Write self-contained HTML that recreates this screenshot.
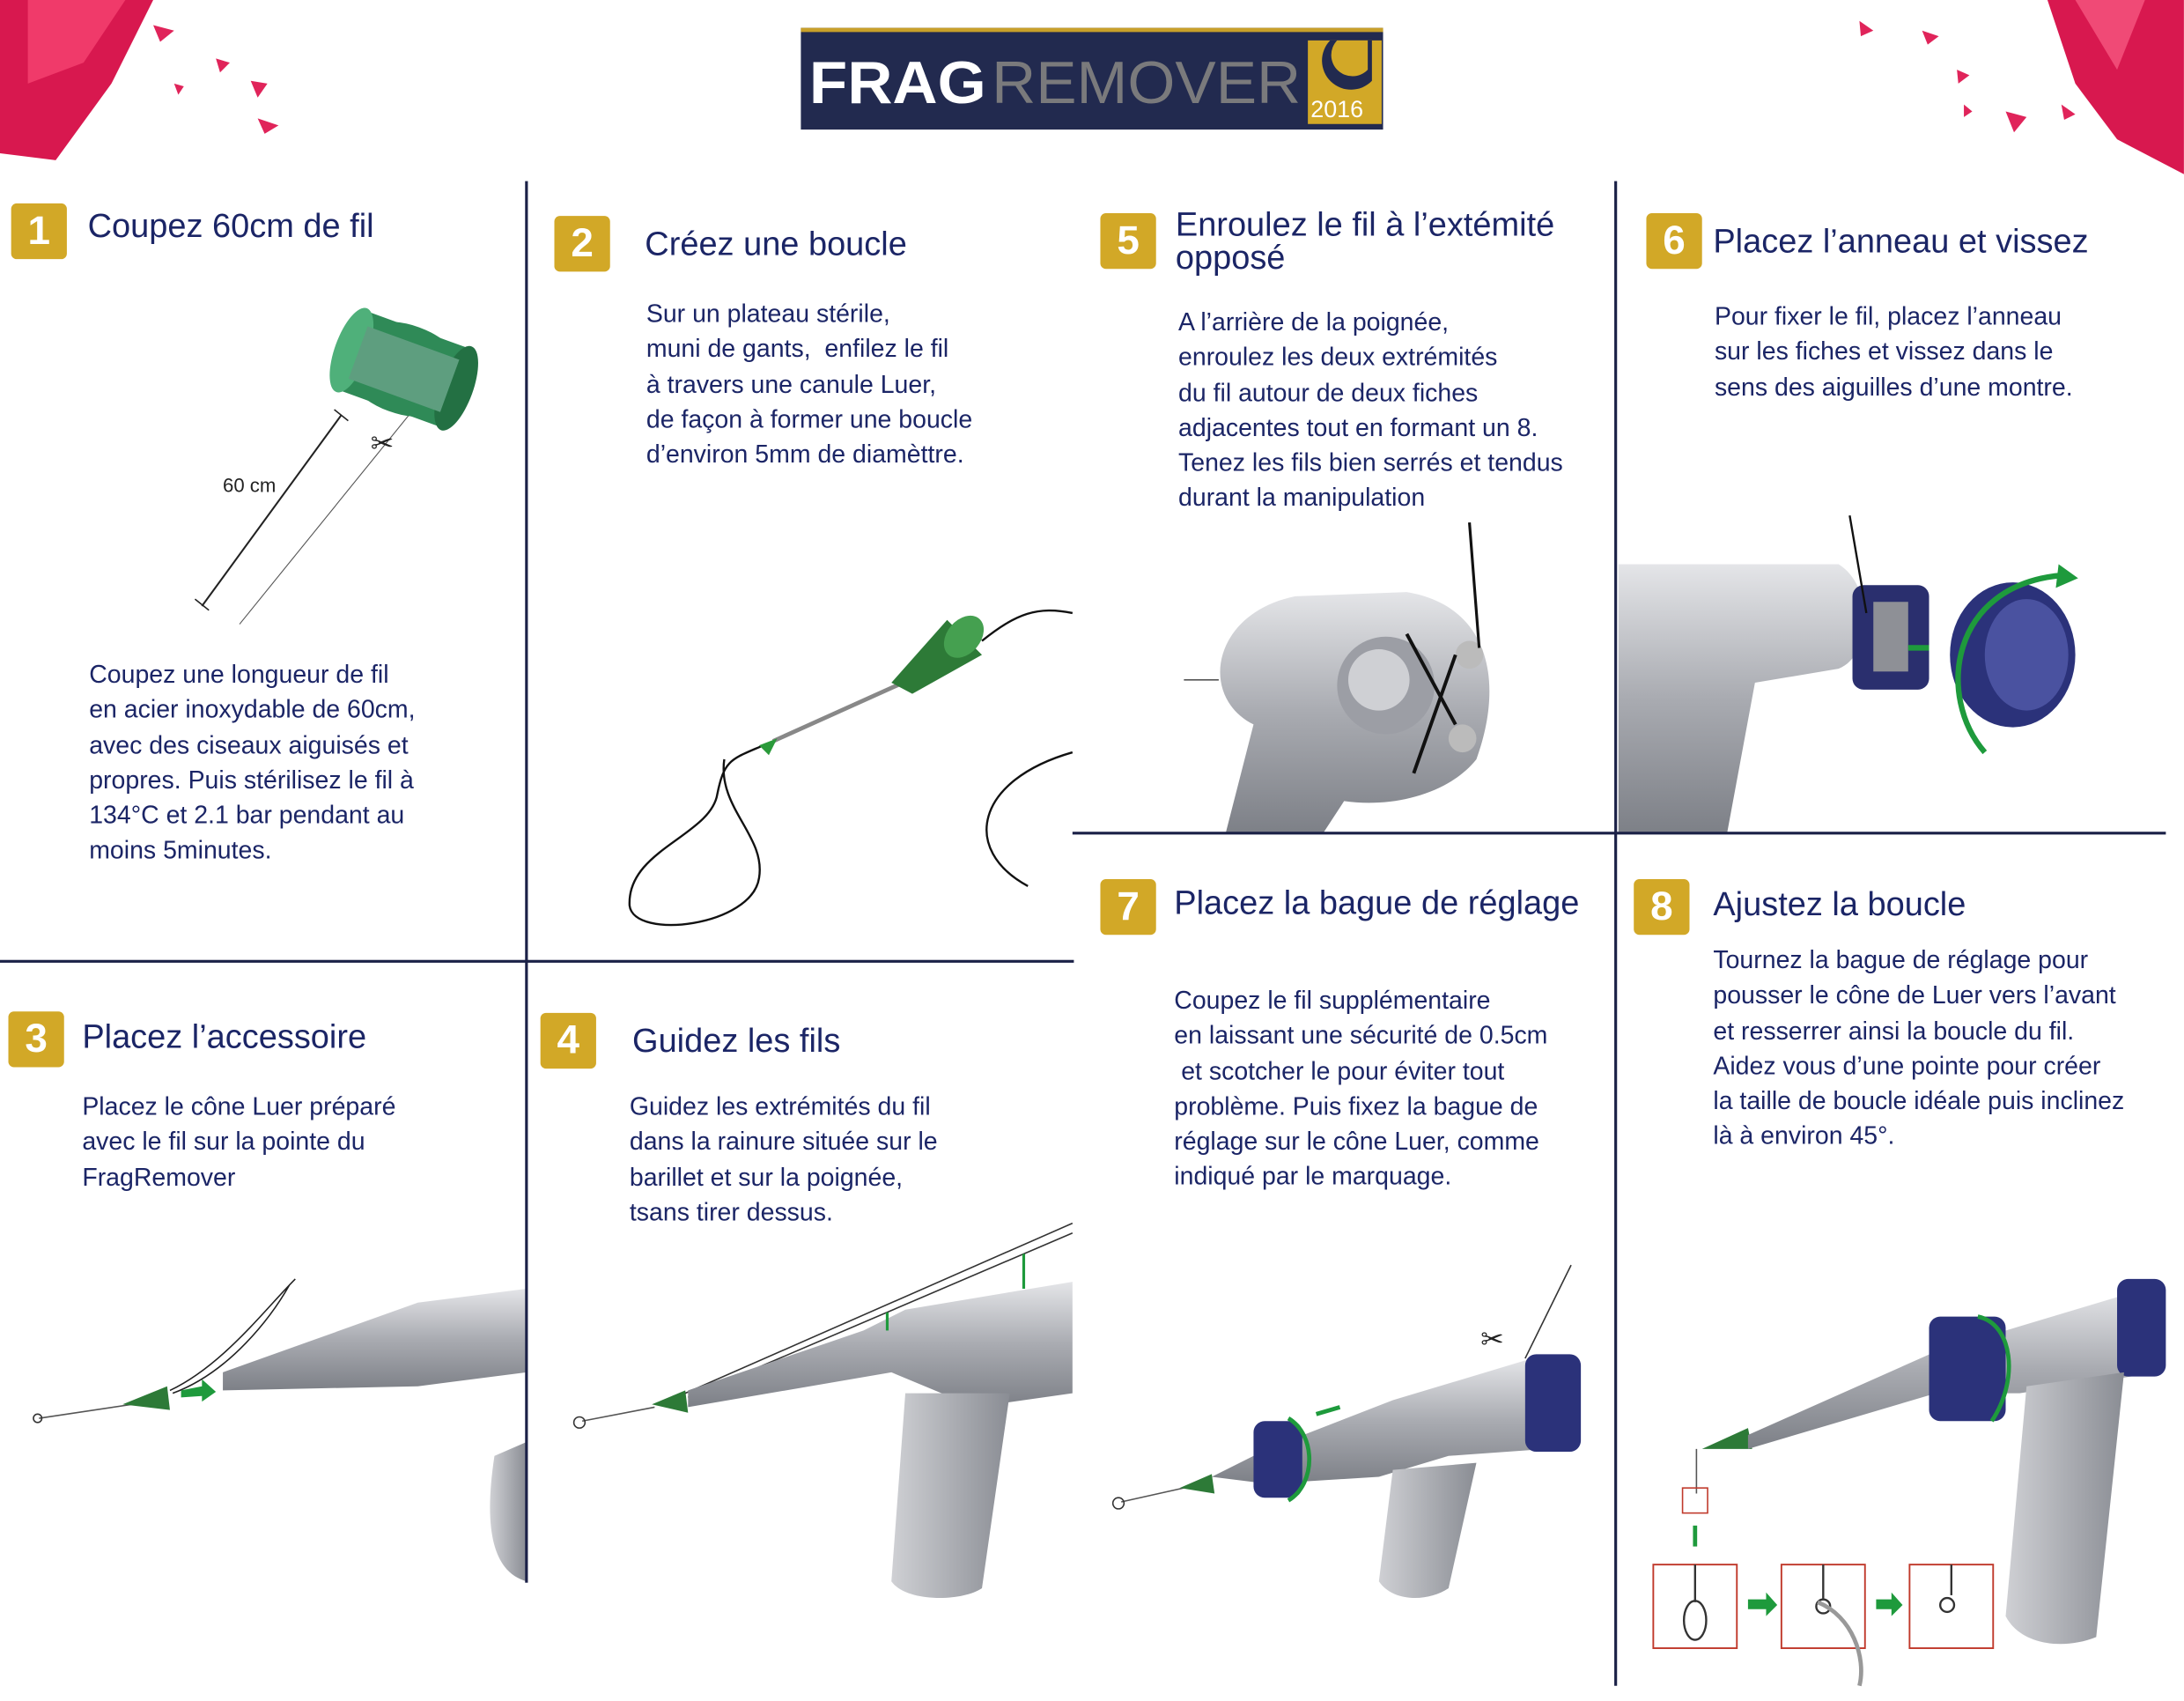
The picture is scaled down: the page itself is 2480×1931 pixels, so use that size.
<!DOCTYPE html>
<html><head><meta charset="utf-8"><style>
html,body{margin:0;padding:0;background:#fff;}
body{width:2480px;height:1931px;overflow:hidden;position:relative;}
#w{position:absolute;left:0;top:0;width:1568px;height:1221px;transform:scale(1.5816);transform-origin:0 0;font-family:"Liberation Sans","DejaVu Sans",sans-serif;color:#1b2566;}
.b{position:absolute;width:40px;height:40px;background:#d2a827;border-radius:4px;color:#fff;font-weight:bold;font-size:29px;line-height:40px;text-align:center;}
.t{position:absolute;font-size:24px;line-height:26px;white-space:nowrap;}
.p{position:absolute;font-size:18px;line-height:25.3px;white-space:nowrap;}
.ln{position:absolute;background:#1b2147;}
svg{position:absolute;left:0;top:0;}
</style></head><body><div id="w">
<svg width="1568" height="1221" viewBox="0 0 1568 1221">
<defs>
<linearGradient id="g" x1="0" y1="0" x2="0" y2="1"><stop offset="0" stop-color="#e4e5e8"/><stop offset=".5" stop-color="#a9abb1"/><stop offset="1" stop-color="#7d8087"/></linearGradient>
<linearGradient id="gh" x1="0" y1="0" x2="1" y2="0"><stop offset="0" stop-color="#cfd0d4"/><stop offset="1" stop-color="#8a8d94"/></linearGradient>
</defs>
<polygon points="0,0 110,0 80,60 40,115 0,110" fill="#d8184f"/>
<polygon points="20,0 90,0 60,45 20,60" fill="#f03a6a"/>
<polygon points="1470,0 1568,0 1568,125 1520,100 1490,60" fill="#d8184f"/>
<polygon points="1490,0 1540,0 1520,50" fill="#f04a76"/>
<g fill="#e0245a"><polygon points="110,18 125,22 115,30"/><polygon points="155,42 165,45 158,52"/><polygon points="180,58 192,60 185,70"/><polygon points="185,85 200,90 190,96"/><polygon points="125,60 132,62 128,68"/><polygon points="1335,15 1345,22 1336,26"/><polygon points="1380,22 1392,26 1384,32"/><polygon points="1405,50 1414,54 1406,60"/><polygon points="1440,80 1455,84 1446,95"/><polygon points="1480,75 1490,82 1482,86"/><polygon points="1410,75 1416,80 1410,84"/></g>
<rect x="575" y="20" width="418" height="73" fill="#222a4f"/>
<rect x="575" y="20" width="418" height="3" fill="#c8a02a"/>
<rect x="939" y="29" width="53" height="60" fill="#d2a827"/>
<path d="M955,29 A18,18 0 0 0 985,58 L985,29 Z" fill="#222a4f"/>
<path d="M960,29 A12,12 0 0 0 982,50 L982,29 Z" fill="#d2a827"/>
<text x="581" y="74" font-family="Liberation Sans" font-weight="bold" font-size="43" fill="#fff" textLength="127" lengthAdjust="spacingAndGlyphs">FRAG</text>
<text x="712" y="74" font-family="Liberation Sans" font-size="43" fill="#7a7a7c" textLength="222" lengthAdjust="spacingAndGlyphs">REMOVER</text>
<text x="941" y="84" font-family="Liberation Sans" font-size="17" fill="#fff">2016</text>
<line x1="145" y1="435" x2="245" y2="298" stroke="#222" stroke-width="1.3"/>
<line x1="140" y1="430" x2="150" y2="438" stroke="#222"/>
<line x1="240" y1="294" x2="250" y2="302" stroke="#222"/>
<line x1="172" y1="448" x2="300" y2="290" stroke="#555" stroke-width=".7"/>
<text x="160" y="353" font-size="14" fill="#222" font-family="Liberation Sans">60 cm</text>
<text x="266" y="325" font-size="20" fill="#222">✂</text>
<g transform="rotate(20 290 265)"><ellipse cx="290" cy="265" rx="48" ry="32" fill="#2f8a57"/><rect x="250" y="235" width="80" height="60" fill="#2f8a57"/><ellipse cx="250" cy="265" rx="12" ry="32" fill="#4fb07a"/><ellipse cx="330" cy="265" rx="12" ry="32" fill="#237043"/><rect x="255" y="245" width="70" height="40" fill="#5e9e7f"/></g>
<line x1="555" y1="532" x2="655" y2="487" stroke="#888" stroke-width="3"/>
<polygon points="640,490 680,445 705,470 655,498" fill="#2d7a37"/>
<ellipse cx="692" cy="457" rx="12" ry="17" transform="rotate(40 692 457)" fill="#45a050"/>
<path d="M705,460 C730,440 745,435 770,440" stroke="#111" fill="none" stroke-width="1.5"/>
<path d="M548,535 C525,545 520,545 515,570 C510,600 450,610 452,650 C455,675 540,665 545,630 C550,600 515,580 520,545" stroke="#111" fill="none" stroke-width="1.5"/>
<polygon points="545,535 558,530 552,542" fill="#2a9a3a"/>
<path d="M770,540 C700,560 690,610 738,636" stroke="#111" fill="none" stroke-width="1.5"/>
<path d="M880,598 L900,520 C860,500 870,440 930,428 L1010,425 C1070,435 1080,490 1060,545 C1040,570 1000,580 965,575 L950,598 Z" fill="url(#g)"/>
<circle cx="995" cy="492" r="35" fill="#9c9ea5"/><circle cx="990" cy="488" r="22" fill="#cfd0d4"/>
<circle cx="1055" cy="470" r="10" fill="#bbb"/><circle cx="1050" cy="530" r="10" fill="#bbb"/>
<path d="M1010,455 L1045,520 M1045,470 L1015,555" stroke="#111" stroke-width="2.5"/>
<line x1="1055" y1="375" x2="1062" y2="465" stroke="#111" stroke-width="2"/>
<line x1="850" y1="488" x2="875" y2="488" stroke="#555"/>
<path d="M1162,405 L1320,405 C1345,420 1345,470 1320,480 L1260,490 L1240,598 L1162,598 Z" fill="url(#g)"/>
<rect x="1330" y="420" width="55" height="75" rx="8" fill="#2a2f6e"/>
<rect x="1345" y="432" width="25" height="50" fill="#8e9096"/>
<ellipse cx="1445" cy="470" rx="45" ry="52" fill="#2b327a"/><ellipse cx="1455" cy="470" rx="30" ry="40" fill="#4a52a0"/>
<path d="M1425,540 C1390,500 1400,420 1480,413" stroke="#1e9a3c" stroke-width="4" fill="none"/>
<polygon points="1478,405 1492,415 1476,422" fill="#1e9a3c"/>
<line x1="1385" y1="465" x2="1370" y2="465" stroke="#1e9a3c" stroke-width="4"/>
<line x1="1328" y1="370" x2="1340" y2="440" stroke="#111" stroke-width="1.5"/>
<line x1="28" y1="1018" x2="95" y2="1008" stroke="#555"/><circle cx="27" cy="1018" r="3" fill="none" stroke="#333"/>
<polygon points="88,1008 120,995 122,1012" fill="#2d7a37"/>
<path d="M122,998 C160,980 190,940 212,918 M124,1000 C165,985 195,945 208,922" stroke="#222" fill="none"/>
<polygon points="130,998 145,995 145,990 155,999 145,1006 145,1002 130,1003" fill="#1e9a3c"/>
<path d="M160,985 L300,935 L378,925 L378,985 L300,995 L160,998 Z" fill="url(#g)"/>
<path d="M355,1045 L378,1035 L378,1135 C360,1130 345,1110 355,1045 Z" fill="url(#gh)"/>
<line x1="418" y1="1020" x2="470" y2="1010" stroke="#555"/><circle cx="416" cy="1021" r="4" fill="none" stroke="#333"/>
<polygon points="468,1008 492,998 494,1014" fill="#2d7a37"/>
<line x1="492" y1="1000" x2="770" y2="878" stroke="#333"/><line x1="494" y1="1003" x2="770" y2="885" stroke="#333"/>
<path d="M494,998 L620,955 L650,940 L770,920 L770,1000 L700,1010 L640,985 L494,1010 Z" fill="url(#g)"/>
<path d="M650,1000 L725,1000 L705,1140 C690,1150 650,1150 640,1135 Z" fill="url(#gh)"/>
<path d="M735,900 L735,925" stroke="#1e9a3c" stroke-width="2"/><path d="M637,942 L637,955" stroke="#1e9a3c" stroke-width="2"/>
<line x1="805" y1="1078" x2="850" y2="1068" stroke="#555"/><circle cx="803" cy="1079" r="4" fill="none" stroke="#333"/>
<polygon points="847,1068 870,1058 872,1072" fill="#2d7a37"/>
<path d="M870,1060 L910,1040 L1000,1005 L1100,975 L1110,1040 L1040,1045 L990,1060 L910,1065 Z" fill="url(#g)"/>
<rect x="900" y="1020" width="35" height="55" rx="8" fill="#2b327a"/>
<rect x="1095" y="972" width="40" height="70" rx="8" fill="#2b327a"/>
<path d="M1000,1055 L1060,1050 L1040,1140 C1025,1150 1000,1150 990,1135 Z" fill="url(#gh)"/>
<path d="M925,1018 C945,1030 945,1065 925,1077" stroke="#1e9a3c" stroke-width="3" fill="none"/>
<line x1="945" y1="1015" x2="962" y2="1010" stroke="#1e9a3c" stroke-width="3"/>
<line x1="1095" y1="975" x2="1128" y2="908" stroke="#333"/>
<text x="1063" y="968" font-size="20" fill="#222">✂</text>
<line x1="1218" y1="1040" x2="1218" y2="1072" stroke="#555"/>
<polygon points="1222,1040 1255,1025 1258,1040" fill="#2d7a37"/>
<path d="M1255,1030 L1390,970 L1540,925 L1550,985 L1450,1000 L1390,1000 L1255,1040 Z" fill="url(#g)"/>
<rect x="1385" y="945" width="55" height="75" rx="8" fill="#2b327a"/>
<rect x="1520" y="918" width="35" height="70" rx="8" fill="#2b327a"/>
<path d="M1455,995 L1525,985 L1505,1175 C1480,1185 1450,1180 1440,1160 Z" fill="url(#gh)"/>
<path d="M1420,945 C1445,950 1450,990 1430,1020" stroke="#1e9a3c" stroke-width="3" fill="none"/>
<rect x="1208" y="1068" width="18" height="18" fill="none" stroke="#c0392b"/>
<line x1="1217" y1="1095" x2="1217" y2="1110" stroke="#1e9a3c" stroke-width="3"/>
<g fill="none" stroke="#c0392b" stroke-width="1.2"><rect x="1187" y="1123" width="60" height="60"/><rect x="1279" y="1123" width="60" height="60"/><rect x="1371" y="1123" width="60" height="60"/></g>
<g stroke="#333" fill="none" stroke-width="1.5"><line x1="1217" y1="1123" x2="1217" y2="1150"/><ellipse cx="1217" cy="1163" rx="8" ry="14"/><line x1="1309" y1="1123" x2="1309" y2="1148"/><circle cx="1309" cy="1153" r="5"/><path d="M1305,1150 C1330,1160 1340,1190 1335,1210" stroke="#999" stroke-width="3"/><line x1="1401" y1="1123" x2="1401" y2="1145"/><circle cx="1398" cy="1152" r="5"/></g>
<g fill="#1e9a3c"><polygon points="1255,1148 1268,1148 1268,1143 1276,1152 1268,1160 1268,1155 1255,1155"/><polygon points="1347,1148 1358,1148 1358,1143 1366,1152 1358,1160 1358,1155 1347,1155"/></g>
</svg>
<div class="ln" style="left:377px;top:130px;width:2px;height:1006px"></div>
<div class="ln" style="left:1159px;top:130px;width:2px;height:1080px"></div>
<div class="ln" style="left:0;top:689px;width:771px;height:2px"></div>
<div class="ln" style="left:770px;top:597px;width:785px;height:2px"></div>

<div class="b" style="left:8px;top:146px">1</div>
<div class="t" style="left:63px;top:150px">Coupez 60cm de fil</div>
<div class="p" style="left:64px;top:472px">Coupez une longueur de fil<br>en acier inoxydable de 60cm,<br>avec des ciseaux aiguisés et<br>propres. Puis stérilisez le fil à<br>134°C et 2.1 bar pendant au<br>moins 5minutes.</div>

<div class="b" style="left:398px;top:155px">2</div>
<div class="t" style="left:463px;top:163px">Créez une boucle</div>
<div class="p" style="left:464px;top:213px">Sur un plateau stérile,<br>muni de gants,&nbsp; enfilez le fil<br>à travers une canule Luer,<br>de façon à former une boucle<br>d’environ 5mm de diamèttre.</div>

<div class="b" style="left:790px;top:153px">5</div>
<div class="t" style="left:844px;top:150px;line-height:24px">Enroulez le fil à l’extémité<br>opposé</div>
<div class="p" style="left:846px;top:219px">A l’arrière de la poignée,<br>enroulez les deux extrémités<br>du fil autour de deux fiches<br>adjacentes tout en formant un 8.<br>Tenez les fils bien serrés et tendus<br>durant la manipulation</div>

<div class="b" style="left:1182px;top:153px">6</div>
<div class="t" style="left:1230px;top:161px">Placez l’anneau et vissez</div>
<div class="p" style="left:1231px;top:215px">Pour fixer le fil, placez l’anneau<br>sur les fiches et vissez dans le<br>sens des aiguilles d’une montre.</div>

<div class="b" style="left:6px;top:726px">3</div>
<div class="t" style="left:59px;top:732px">Placez l’accessoire</div>
<div class="p" style="left:59px;top:782px">Placez le cône Luer préparé<br>avec le fil sur la pointe du<br>FragRemover</div>

<div class="b" style="left:388px;top:727px">4</div>
<div class="t" style="left:454px;top:735px">Guidez les fils</div>
<div class="p" style="left:452px;top:782px">Guidez les extrémités du fil<br>dans la rainure située sur le<br>barillet et sur la poignée,<br>tsans tirer dessus.</div>

<div class="b" style="left:790px;top:631px">7</div>
<div class="t" style="left:843px;top:636px">Placez la bague de réglage</div>
<div class="p" style="left:843px;top:706px">Coupez le fil supplémentaire<br>en laissant une sécurité de 0.5cm<br>&nbsp;et scotcher le pour éviter tout<br>problème. Puis fixez la bague de<br>réglage sur le cône Luer, comme<br>indiqué par le marquage.</div>

<div class="b" style="left:1173px;top:631px">8</div>
<div class="t" style="left:1230px;top:637px">Ajustez la boucle</div>
<div class="p" style="left:1230px;top:677px">Tournez la bague de réglage pour<br>pousser le cône de Luer vers l’avant<br>et resserrer ainsi la boucle du fil.<br>Aidez vous d’une pointe pour créer<br>la taille de boucle idéale puis inclinez<br>là à environ 45°.</div>
</div></body></html>
